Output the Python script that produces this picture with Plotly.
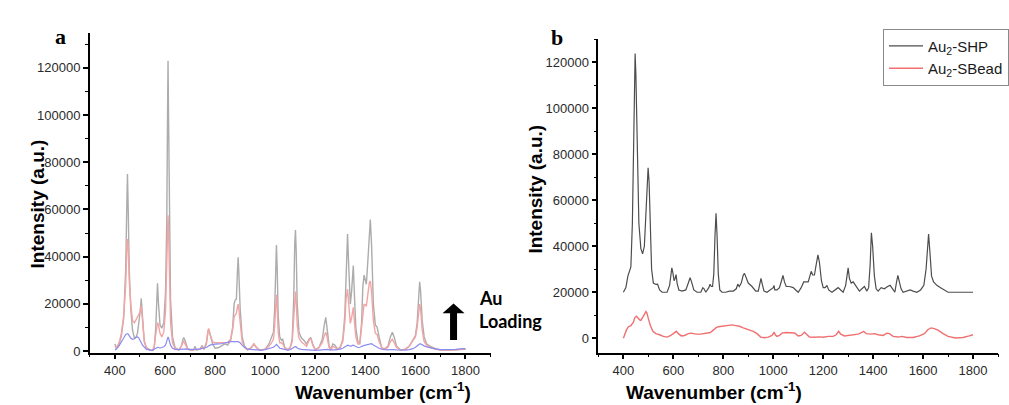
import plotly.graph_objects as go

# ---------------- Panel a: Au loading series (common wavenumber grid) -------------
wn_a = [400, 405, 415, 425, 435, 443, 447, 450, 453, 457, 463, 470, 478, 485, 490, 495, 500, 505, 510, 517,
        525, 540, 550, 557, 563, 567, 570, 574, 580, 587, 595, 602, 607, 610, 612, 614, 617, 622, 630, 640,
        655, 665, 672, 675, 680, 690, 705, 715, 720, 725, 740, 748, 755, 765, 772, 775, 780, 790, 800, 815,
        830, 840, 850, 862, 870, 876, 880, 885, 889, 892, 895, 900, 908, 918, 930, 945, 955, 965, 980, 1000,
        1015, 1025, 1033, 1038, 1042, 1045, 1048, 1052, 1058, 1065, 1070, 1078, 1090, 1100, 1108, 1114, 1118, 1121, 1124, 1128,
        1135, 1145, 1155, 1165, 1175, 1182, 1190, 1200, 1215, 1228, 1236, 1242, 1248, 1255, 1262, 1270, 1278, 1290, 1300, 1310,
        1318, 1323, 1329, 1334, 1340, 1345, 1349, 1352, 1356, 1362, 1370, 1378, 1385, 1390, 1395, 1400, 1404, 1410, 1416, 1420,
        1425, 1432, 1440, 1447, 1455, 1465, 1475, 1490, 1500, 1508, 1515, 1525, 1540, 1560, 1575, 1590, 1600, 1607, 1613, 1617,
        1621, 1627, 1635, 1645, 1660, 1680, 1700, 1730, 1760, 1780, 1800]

int_a_high = [3000, 1000, 2500, 6000, 14000, 35000, 60000, 75000, 60000, 35000, 18000, 9000, 5500, 6000, 7500, 11000, 16000, 22300, 15000, 4000,
              1500, 500, 300, 1500, 10000, 20000, 28700, 20000, 11000, 9700, 12000, 25000, 55000, 100000, 123000, 100000, 55000, 22000, 6000, 1500,
              500, 2000, 5000, 5700, 4500, 1000, 300, 500, 2000, 500, 800, 2300, 700, 3000, 8500, 9000, 7000, 3000, 1200, 1500,
              2500, 3000, 2500, 4500, 10000, 20000, 21500, 22000, 33000, 39700, 33000, 18000, 6000, 2000, 500, 1500, 3000, 1500, 300, 800,
              3000, 6000, 8000, 18000, 35000, 44900, 35000, 15000, 6000, 4500, 5000, 1500, 500, 1500, 5000, 22000, 45000, 51300, 42000, 20000,
              8000, 5500, 4500, 3000, 5000, 5800, 3000, 500, 1500, 5000, 11000, 14300, 9000, 2500, 500, 3000, 2500, 700, 1500, 5000,
              15000, 35000, 49600, 35000, 19900, 25000, 34000, 36200, 25000, 10000, 4000, 3500, 12000, 27000, 32200, 29000, 28300, 38000, 53000, 55700,
              45000, 20000, 11000, 10200, 6000, 1500, 800, 2000, 6000, 8000, 6000, 2000, 500, 800, 2000, 5000, 6500, 12000, 25000, 29300,
              25000, 13000, 6000, 3000, 2000, 1000, 500, 300, 500, 700, 1000]

int_a_mid = [2000, 1500, 3000, 7000, 15000, 28000, 42000, 47500, 44000, 30000, 20000, 13000, 12000, 13500, 14500, 15000, 16500, 19200, 13000, 4500,
             1500, 300, 200, 2000, 7000, 11000, 12100, 11000, 7500, 6000, 8000, 17000, 35000, 52000, 57500, 52000, 33000, 12000, 3500, 1000,
             500, 2000, 3800, 4000, 3000, 800, 300, 500, 1000, 500, 800, 1500, 1000, 3500, 9000, 9500, 7000, 4000, 3500, 3500,
             3500, 3800, 3600, 5000, 9000, 14500, 15500, 16000, 18500, 19900, 17500, 11000, 4000, 1500, 500, 1500, 3000, 1500, 300, 800,
             2000, 3500, 5000, 11000, 19500, 23800, 19000, 8000, 3500, 3500, 3000, 1500, 500, 1500, 4000, 13000, 23000, 25200, 21000, 11000,
             5500, 3800, 3000, 2000, 4500, 5500, 2500, 500, 1500, 3500, 6500, 8000, 5500, 1500, 500, 2000, 1500, 700, 2000, 4000,
             12000, 22000, 26200, 20000, 11700, 14000, 17500, 18500, 13000, 6000, 3000, 3000, 10000, 17000, 19900, 19500, 19000, 24000, 29000, 29700,
             25000, 13000, 7500, 7000, 4000, 1500, 800, 1500, 4000, 5000, 3500, 1500, 500, 700, 2000, 4500, 6000, 10000, 17500, 19900,
             17500, 9000, 4000, 2500, 1500, 700, 400, 300, 500, 600, 700]

int_a_low = [500, 800, 2000, 3500, 5500, 7000, 7300, 7400, 7200, 6500, 5500, 5000, 5200, 5800, 6000, 5600, 4800, 3500, 2500, 1500,
             800, 400, 300, 800, 1200, 1500, 1600, 1500, 1300, 1500, 1800, 2500, 4000, 5500, 6000, 5500, 4000, 2500, 1200, 700,
             600, 800, 1000, 1000, 900, 700, 600, 700, 700, 700, 900, 1000, 1100, 1500, 2000, 2200, 2500, 2800, 3000, 3000,
             3200, 3500, 3700, 4000, 4000, 4100, 4100, 4000, 4000, 4000, 3800, 3500, 2500, 1500, 800, 700, 800, 600, 400, 600,
             1000, 1300, 1600, 2000, 2500, 2800, 2500, 1800, 1200, 1000, 900, 600, 400, 600, 1000, 1500, 1900, 2000, 1800, 1300,
             900, 700, 600, 500, 500, 500, 400, 300, 400, 600, 800, 900, 700, 500, 400, 500, 500, 600, 800, 1200,
             1800, 2300, 2500, 2300, 2000, 2100, 2400, 2500, 2200, 1800, 1500, 1600, 2000, 2200, 2400, 2500, 2600, 2900, 3200, 3300,
             3100, 2600, 2000, 1600, 1200, 800, 600, 500, 600, 700, 600, 500, 400, 400, 600, 1000, 1600, 2200, 2700, 3000,
             3000, 2600, 2200, 1800, 1300, 900, 600, 500, 700, 900, 1000]

# ---------------- Panel b: Au2-SHP and Au2-SBead -------------
wn_b_shp = [400, 410, 418, 425, 430, 436, 441, 445, 447, 450, 455, 462, 470, 477, 484, 490, 495, 499, 503, 508,
            513, 520, 530, 537, 545, 555, 575, 585, 590, 594, 598, 603, 607, 611, 615, 622, 635, 650, 660, 667,
            673, 682, 695, 710, 718, 723, 730, 742, 747, 752, 757, 762, 767, 771, 775, 780, 786, 795, 810, 825,
            840, 852, 858, 864, 872, 880, 885, 892, 900, 915, 930, 940, 946, 951, 956, 963, 975, 990, 1000, 1003,
            1006, 1015, 1025, 1033, 1039, 1045, 1052, 1065, 1080, 1090, 1100, 1112, 1122, 1140, 1148, 1152, 1158, 1165, 1172, 1179,
            1185, 1193, 1200, 1208, 1215, 1222, 1235, 1250, 1260, 1270, 1280, 1290, 1296, 1300, 1305, 1312, 1320, 1327, 1335, 1345,
            1355, 1365, 1375, 1382, 1388, 1393, 1398, 1405, 1412, 1420, 1432, 1445, 1458, 1468, 1478, 1487, 1493, 1499, 1505, 1512,
            1520, 1535, 1548, 1560, 1575, 1590, 1603, 1612, 1618, 1622, 1627, 1634, 1642, 1655, 1670, 1685, 1700, 1750, 1800]

int_b_shp = [20000, 22000, 27000, 29500, 31000, 50000, 95000, 120000, 123900, 115000, 80000, 50000, 39000, 36700, 40000, 52000, 68000, 74100, 68000, 45000,
             30000, 24000, 23400, 23500, 21000, 20000, 20000, 23000, 28000, 30600, 28500, 25000, 26000, 27700, 24000, 21000, 20500, 21000, 24000, 26300,
             24500, 21000, 20000, 20000, 22000, 21500, 20000, 22000, 23500, 22500, 22500, 28000, 45000, 54400, 45000, 28000, 21000, 20000, 20000, 20500,
             20500, 21500, 23500, 22500, 24000, 27500, 28200, 26000, 24000, 22500, 20500, 20500, 24000, 26000, 23500, 20500, 20000, 21000, 22000, 23000,
             21000, 21000, 22000, 25000, 27300, 24500, 22500, 22500, 22000, 21000, 20000, 22000, 24500, 24500, 28000, 29100, 27500, 27500, 32000, 36300,
             33000, 25000, 22000, 22000, 23000, 21000, 20000, 21000, 22000, 21000, 20000, 23000, 29000, 30600, 26000, 24000, 24500, 23500, 22000, 20500,
             21500, 22500, 20500, 22000, 32000, 45900, 40000, 27000, 21500, 20500, 22000, 21500, 22500, 23000, 21500, 20000, 24000, 27300, 24500, 21500,
             20000, 20500, 21000, 20500, 20000, 21000, 23000, 30000, 42000, 45300, 38000, 27000, 24500, 23000, 22000, 21000, 20000, 20000, 20000]

wn_b_bead = [400, 405, 412, 420, 430, 440, 446, 452, 458, 465, 470, 478, 485, 490, 494, 500, 508, 518, 530, 545,
             560, 575, 590, 602, 612, 620, 632, 645, 660, 672, 690, 710, 730, 748, 760, 770, 780, 800, 820, 835,
             850, 865, 880, 900, 920, 935, 950, 965, 980, 995, 1000, 1004, 1008, 1015, 1025, 1035, 1050, 1070, 1085, 1100,
             1112, 1125, 1135, 1145, 1165, 1185, 1200, 1220, 1240, 1252, 1262, 1270, 1285, 1300, 1320, 1340, 1355, 1362, 1372, 1390,
             1405, 1420, 1440, 1455, 1465, 1480, 1500, 1515, 1535, 1560, 1585, 1605, 1620, 1632, 1645, 1660, 1680, 1700, 1730, 1760,
             1785, 1800]

int_b_bead = [0, 1500, 3500, 5000, 5500, 7000, 9000, 9600, 8800, 8000, 7800, 9000, 10500, 11600, 11000, 8500, 5500, 3000, 2000, 1500,
              800, 500, 1200, 2200, 3000, 2000, 1000, 1200, 2000, 2200, 1800, 1800, 2000, 2500, 3500, 4500, 5000, 5200, 5700, 5800,
              5500, 5200, 4500, 3800, 3000, 2000, 500, 200, 500, 1200, 1800, 2600, 1500, 800, 1200, 2200, 2500, 2500, 2300, 1000,
              1200, 2600, 1500, 500, 400, 600, 400, 800, 800, 1500, 3000, 1800, 1000, 1200, 1600, 1800, 2500, 3000, 2000, 1800,
              2000, 1500, 1200, 2200, 2000, 800, 500, 800, 300, 300, 1000, 2000, 3800, 4500, 4200, 3500, 2000, 800, 100, 300,
              1000, 1500]

x_ticks = [400, 600, 800, 1000, 1200, 1400, 1600, 1800]
y_ticks = [0, 20000, 40000, 60000, 80000, 100000, 120000]
y_tick_labels = ["0", "20000", "40000", "60000", "80000", "100000", "120000"]
series_names = ["Au<sub>2</sub>-SHP", "Au<sub>2</sub>-SBead"]

W, H = 1009, 405


def px(x):
    return x / W


def py(y):
    return (H - y) / H


fig = go.Figure()

# panel a traces
fig.add_trace(go.Scatter(x=wn_a, y=int_a_high, mode="lines", line=dict(color="#acacac", width=1.4),
                         xaxis="x", yaxis="y", showlegend=False))
fig.add_trace(go.Scatter(x=wn_a, y=int_a_mid, mode="lines", line=dict(color="#f3a5a5", width=1.4),
                         xaxis="x", yaxis="y", showlegend=False))
fig.add_trace(go.Scatter(x=wn_a, y=int_a_low, mode="lines", line=dict(color="#8c8cf0", width=1.2),
                         xaxis="x", yaxis="y", showlegend=False))

# panel b traces
fig.add_trace(go.Scatter(x=wn_b_shp, y=int_b_shp, mode="lines", line=dict(color="#4d4d4d", width=1.2),
                         xaxis="x2", yaxis="y2", name=series_names[0]))
fig.add_trace(go.Scatter(x=wn_b_bead, y=int_b_bead, mode="lines", line=dict(color="#f07070", width=1.4),
                         xaxis="x2", yaxis="y2", name=series_names[1]))

tickfont = dict(family="Liberation Sans, Arial, sans-serif", size=13, color="#2a2a2a")

common_x = dict(range=[300, 1900], tickvals=x_ticks, ticks="outside", ticklen=5, tickwidth=1.5,
                tickcolor="black", showline=True, linecolor="black", linewidth=1.6, showgrid=False,
                zeroline=False, tickfont=tickfont,
                minor=dict(ticks="outside", ticklen=3, tickwidth=1.3, tickcolor="black", dtick=100, tick0=300))
common_y = dict(tickvals=y_ticks, ticktext=y_tick_labels, ticks="outside", ticklen=5, tickwidth=1.5,
                tickcolor="black", showline=True, linecolor="black", linewidth=1.6, showgrid=False,
                zeroline=False, tickfont=tickfont,
                minor=dict(ticks="outside", ticklen=3, tickwidth=1.3, tickcolor="black", dtick=10000, tick0=0))

fig.update_layout(
    width=W, height=H, margin=dict(l=0, r=0, t=0, b=0),
    paper_bgcolor="white", plot_bgcolor="white",
    xaxis=dict(domain=[px(90), px(491)], anchor="y", **common_x),
    yaxis=dict(domain=[py(358), py(33)], anchor="x", range=[-700, 135000], **common_y),
    xaxis2=dict(domain=[px(599), px(999)], anchor="y2", **common_x),
    yaxis2=dict(domain=[py(358), py(40)], anchor="x2", range=[-6300, 130000], **common_y),
    legend=dict(x=px(884), y=py(29), xanchor="left", yanchor="top",
                bgcolor="white", bordercolor="#8a8a8a", borderwidth=1,
                font=dict(family="Liberation Sans, Arial, sans-serif", size=15, color="#1a1a1a"),
                itemwidth=34, tracegroupgap=0),
    showlegend=True,
)

title_font = dict(family="Liberation Sans, Arial, sans-serif", size=19, color="black")
annotations = [
    dict(text="<b>a</b>", x=px(53), y=py(22), xref="paper", yref="paper", showarrow=False,
         font=dict(family="Liberation Serif, Times New Roman, serif", size=22, color="black")),
    dict(text="<b>b</b>", x=px(558), y=py(23), xref="paper", yref="paper", showarrow=False,
         font=dict(family="Liberation Serif, Times New Roman, serif", size=22, color="black")),
    dict(text="<b>Intensity (a.u.)</b>", x=px(25), y=py(207), xref="paper", yref="paper",
         showarrow=False, textangle=-90, font=title_font),
    dict(text="<b>Intensity (a.u.)</b>", x=px(536), y=py(192), xref="paper", yref="paper",
         showarrow=False, textangle=-90, font=title_font),
    dict(text="<b>Wavenumber (cm<sup>-1</sup>)</b>", x=px(293), y=py(397), xref="paper", yref="paper",
         showarrow=False, font=title_font, yanchor="middle"),
    dict(text="<b>Wavenumber (cm<sup>-1</sup>)</b>", x=px(805), y=py(397), xref="paper", yref="paper",
         showarrow=False, font=title_font, yanchor="middle"),
    dict(text="<b>Au</b>", x=px(477), y=py(316), xref="paper", yref="paper", showarrow=False,
         xanchor="left", font=dict(family="Lato, Open Sans, sans-serif", size=18, color="black")),
    dict(text="<b>Loading</b>", x=px(477), y=py(339), xref="paper", yref="paper", showarrow=False,
         xanchor="left", font=dict(family="Lato, Open Sans, sans-serif", size=18, color="black")),
]
fig.update_layout(annotations=annotations)

# thick upward arrow (decoration)
arrow_pts = [(450.5, 345), (457.5, 345), (457.5, 318), (465, 318), (454, 308), (443, 318), (450.5, 318)]
path = "M " + " L ".join(f"{px(x):.5f},{py(y):.5f}" for x, y in arrow_pts) + " Z"
fig.add_shape(type="path", path=path, xref="paper", yref="paper", fillcolor="black",
              line=dict(color="black", width=0))

fig.write_html("out.html", config={"displayModeBar": False},
               post_script="document.body.style.margin='0';")
